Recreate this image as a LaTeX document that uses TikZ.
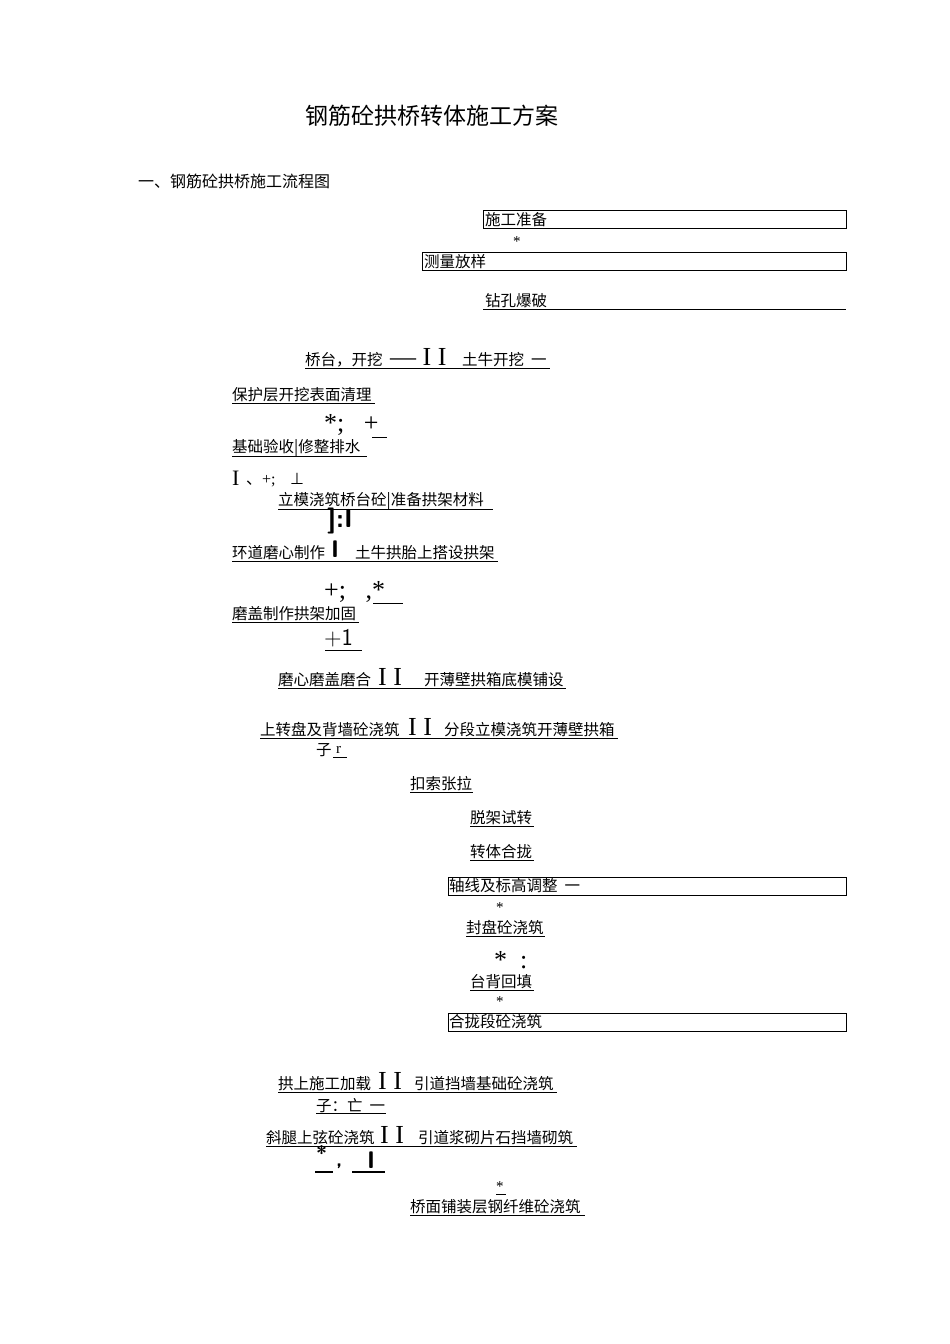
\documentclass[tikz,border=0pt]{standalone}
\usepackage{fontspec}
\setmainfont{Noto Sans CJK SC}
\newfontfamily\lat{Liberation Serif}
\newfontfamily\djfont{DejaVu Sans}
\newcommand{\T}[4]{\node[txt] (#1) at (#2,#3) {#4};}
\newcommand{\U}[3]{\draw[ul] (#1,#3) -- (#2,#3);}
\begin{document}
\begin{tikzpicture}[x=1pt,y=-1pt,
 txt/.style={anchor=west,inner sep=0pt,font=\fontsize{15.5}{17}\selectfont},
 big/.style={anchor=west,inner sep=0pt,font=\fontsize{26}{28}\selectfont\lat},
 ul/.style={line width=0.7pt},
 bx/.style={draw,line width=0.7pt}]
\useasboundingbox (0,0) rectangle (950,1344);
\node[txt,font=\fontsize{23}{26}\selectfont] (title) at (305,116) {钢筋砼拱桥转体施工方案};
\node[txt,font=\fontsize{16}{18}\selectfont] (sec) at (138,181) {一、钢筋砼拱桥施工流程图};
\draw[bx] (483,210) rectangle (846,228); \T{a1}{485}{220}{施工准备}
\node[big,font=\fontsize{15}{16}\selectfont\lat] (s1) at (513,242) {*};
\draw[bx] (422,252) rectangle (846,270); \T{a2}{424}{262}{测量放样}
\T{a3}{485}{301}{钻孔爆破} \U{483}{846}{309}
\T{b1}{305}{360}{桥台，开挖} \node[big] (b1s) at (390,357) {— I I}; \T{b1b}{462}{360}{土牛开挖\ \ 一} \U{305}{550}{368}
\T{c1}{232}{395}{保护层开挖表面清理} \U{232}{375}{403}
\node[big] (c2) at (324,425) {*;\ \ \ +}; \U{372}{387}{437}
\T{d1}{232}{448}{基础验收|修整排水} \U{232}{367}{456}
\node[big,font=\fontsize{22}{24}\selectfont\lat] (d2) at (232,478) {I}; \node[txt,font=\fontsize{16}{18}\selectfont] (d3) at (246,480) {、{\lat +;}\ \ \ \ {\djfont ⊥}};
\T{e1}{278}{501}{立模浇筑桥台砼|准备拱架材料} \U{278}{493}{509}
\node[big,font=\fontsize{26}{28}\selectfont\sffamily\bfseries] (e2) at (327,521) {]:I};
\T{f1}{232}{553}{环道磨心制作} \node[big,font=\fontsize{24}{26}\selectfont\sffamily\bfseries] (f2) at (331,549) {I}; \T{f3}{355}{553}{土牛拱胎上搭设拱架} \U{232}{498}{561}
\node[big] (g1) at (324,592) {+;\ \ \ ,*}; \U{373}{403}{603}
\T{h1}{232}{614}{磨盖制作拱架加固} \U{232}{359}{622}
\node[big,font=\fontsize{24}{26}\selectfont\sffamily] (h2) at (324,638) {+1}; \U{325}{362}{650}
\T{i1}{278}{680}{磨心磨盖磨合} \node[big] (i2) at (378,677) {I I}; \T{i3}{424}{680}{开薄壁拱箱底模铺设} \U{278}{566}{688}
\T{j1}{260}{730}{上转盘及背墙砼浇筑} \node[big] (j2) at (408,727) {I I}; \T{j3}{444}{730}{分段立模浇筑开薄壁拱箱} \U{260}{618}{738}
\T{j4}{316}{750}{子} \node[txt,font=\fontsize{15}{16}\selectfont\lat] (j5) at (336,750) {r}; \U{333}{347}{757}
\T{k1}{410}{784}{扣索张拉} \U{410}{473}{792}
\T{k2}{470}{818}{脱架试转} \U{470}{534}{826}
\T{k3}{470}{852}{转体合拢} \U{470}{534}{860}
\draw[bx] (448,877) rectangle (846,895); \T{k4}{449}{886}{轴线及标高调整\ \ 一}
\node[big,font=\fontsize{15}{16}\selectfont\lat] (s2) at (496,908) {*};
\T{k5}{466}{928}{封盘砼浇筑} \U{466}{545}{936}
\node[big] (s3) at (494,960) {*\ \ :};
\T{k6}{470}{982}{台背回填} \U{470}{534}{990}
\node[big,font=\fontsize{15}{16}\selectfont\lat] (s4) at (496,1002) {*};
\draw[bx] (448,1013) rectangle (846,1031); \T{k7}{449}{1022}{合拢段砼浇筑}
\T{l1}{278}{1084}{拱上施工加载} \node[big] (l2) at (378,1081) {I I}; \T{l3}{414}{1084}{引道挡墙基础砼浇筑} \U{278}{557}{1092}
\T{l4}{316}{1106}{子：亡\ \ 一} \U{316}{386}{1113}
\T{m1}{266}{1138}{斜腿上弦砼浇筑} \node[big] (m2) at (380,1135) {I I}; \T{m3}{418}{1138}{引道浆砌片石挡墙砌筑} \U{266}{577}{1146}
\node[big,font=\fontsize{20}{22}\selectfont\sffamily\bfseries] (m4) at (316,1153) {*};
\node[big,font=\fontsize{20}{22}\selectfont\sffamily\bfseries] (m5) at (336,1166) {,};
\node[big,font=\fontsize{24}{26}\selectfont\sffamily\bfseries] (m6) at (367,1160) {I};
\draw[line width=1.4pt] (315,1172) -- (333,1172) (352,1172) -- (385,1172);
\node[big,font=\fontsize{15}{16}\selectfont\lat] (s5) at (496,1187) {*}; \U{496}{506}{1194}
\T{n1}{410}{1207}{桥面铺装层钢纤维砼浇筑} \U{410}{585}{1215}
\end{tikzpicture}
\end{document}
